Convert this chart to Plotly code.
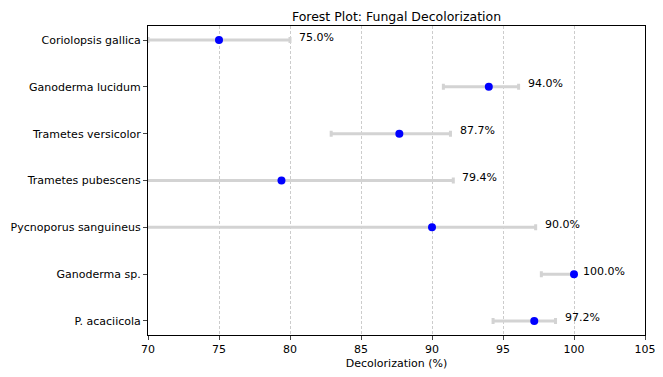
import plotly.graph_objects as go

species = ["Coriolopsis gallica", "Ganoderma lucidum", "Trametes versicolor",
           "Trametes pubescens", "Pycnoporus sanguineus", "Ganoderma sp.", "P. acaciicola"]
decol = [75.0, 94.0, 87.7, 79.4, 90.0, 100.0, 97.2]
ci_low = [70.0, 90.8, 82.9, 67.3, 60.0, 97.7, 94.3]
ci_high = [80.0, 96.1, 91.3, 91.5, 97.3, 100.0, 98.7]
x_ticks = [70, 75, 80, 85, 90, 95, 100, 105]

err_plus = [h - m for h, m in zip(ci_high, decol)]
err_minus = [m - l for m, l in zip(decol, ci_low)]

font = "DejaVu Sans, Arial, sans-serif"

fig = go.Figure()
fig.add_trace(go.Scatter(
    x=decol, y=species, mode="markers",
    marker=dict(color="blue", size=8),
    error_x=dict(type="data", symmetric=False, array=err_plus, arrayminus=err_minus,
                 color="lightgray", thickness=3, width=3),
    showlegend=False,
))

for s, m, h in zip(species, decol, ci_high):
    fig.add_annotation(x=h + 0.5, y=s, text=f"{m:.1f}%", showarrow=False,
                       xanchor="left", yanchor="middle", yshift=3,
                       font=dict(size=11, color="black", family=font))

# page body has an 8px margin, so the figure is 8px smaller and left/top margins shifted
fig.update_layout(
    width=655, height=369,
    margin=dict(l=140, r=18, t=18, b=42, autoexpand=False),
    paper_bgcolor="white", plot_bgcolor="white",
    font=dict(family=font, size=11, color="black"),
    title=dict(text="Forest Plot: Fungal Decolorization", x=0.5, xref="paper", xanchor="center",
               y=1, yref="paper", yanchor="bottom", pad=dict(b=5), automargin=False,
               font=dict(size=12.5, color="black", family=font)),
    xaxis=dict(range=[70, 105], tickvals=x_ticks, ticks="outside", ticklen=4,
               showline=True, linecolor="black", linewidth=1, mirror=True,
               showgrid=True, gridcolor="#cccccc", griddash="3px,2px", gridwidth=0.8,
               zeroline=False, automargin=False, tickfont=dict(size=11),
               title=dict(text="Decolorization (%)", font=dict(size=11, family=font), standoff=4)),
    yaxis=dict(type="category", categoryorder="array", categoryarray=species,
               range=[6.3, -0.3], ticks="outside", ticklen=4, automargin=False,
               showline=True, linecolor="black", linewidth=1, mirror=True,
               showgrid=False, zeroline=False, tickfont=dict(size=11)),
)

fig.write_html("out.html")
